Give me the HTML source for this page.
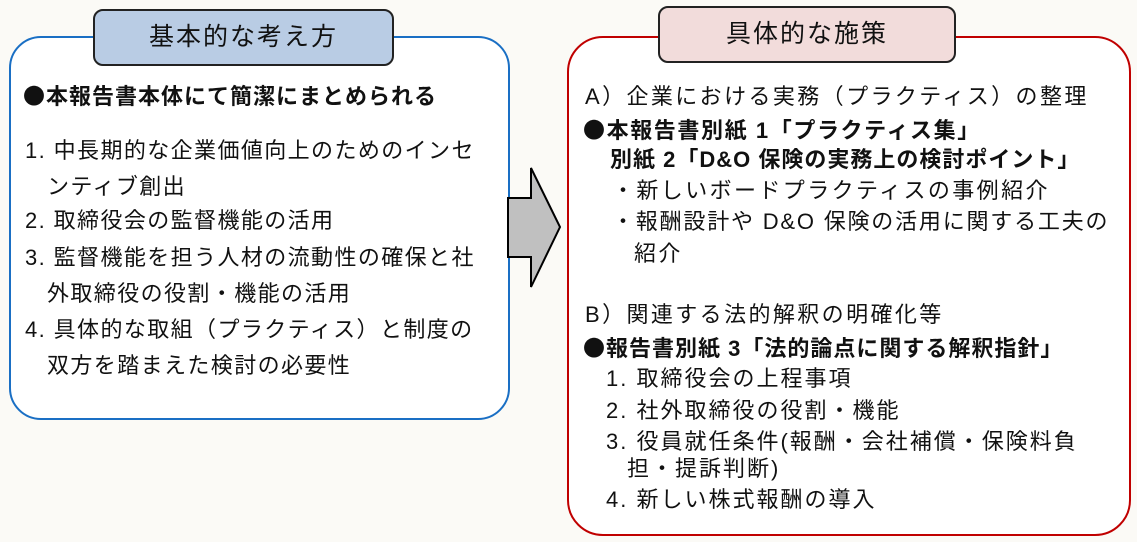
<!DOCTYPE html>
<html><head><meta charset="utf-8"><style>
body{margin:0;width:1137px;height:542px;background:#fbfaf6;position:relative;overflow:hidden;font-family:"Liberation Sans","Noto Sans CJK JP",sans-serif;color:#111}
.t{position:absolute;white-space:nowrap;line-height:1;}
.l{font-size:22px;letter-spacing:1.4px}
.r{font-size:22px;letter-spacing:2.4px}
.k{font-family:"Noto Sans CJK JP",sans-serif}
</style></head><body>
<div style="position:absolute;left:9px;top:36px;width:497px;height:380px;border:2px solid #1a6fc4;border-radius:32px;background:#fff"></div>
<div style="position:absolute;left:93px;top:9px;width:297px;height:53px;border:2px solid #222;border-radius:10px;background:#b9cce4;font-size:25px;text-align:center;line-height:53px;letter-spacing:2px">基本的な考え方</div>
<div style="position:absolute;left:567px;top:36px;width:560px;height:496px;border:2px solid #c00000;border-radius:36px;background:#fff"></div>
<div style="position:absolute;left:658px;top:6px;width:294px;height:53px;border:2px solid #222;border-radius:10px;background:#f2dcdb;font-size:25px;text-align:center;line-height:53px;letter-spacing:2px">具体的な施策</div>
<svg style="position:absolute;left:0;top:0" width="1137" height="542"><polygon points="508,198 531,198 531,168 560,227 531,287 531,257 508,257" fill="#c0c0c0" stroke="#000" stroke-width="2"/></svg>

<div class="t l" style="left:23px;top:84px;font-weight:bold;font-size:22px;letter-spacing:1px"><span class="k">●</span>本報告書本体にて簡潔にまとめられる</div>
<div class="t l" style="left:25px;top:140px">1. 中長期的な企業価値向上のためのインセ</div>
<div class="t l" style="left:47px;top:176px">ンティブ創出</div>
<div class="t l" style="left:25px;top:210px">2. 取締役会の監督機能の活用</div>
<div class="t l" style="left:25px;top:247px">3. 監督機能を担う人材の流動性の確保と社</div>
<div class="t l" style="left:47px;top:283px">外取締役の役割・機能の活用</div>
<div class="t l" style="left:25px;top:319px">4. 具体的な取組（プラクティス）と制度の</div>
<div class="t l" style="left:47px;top:355px">双方を踏まえた検討の必要性</div>

<div class="t r" style="left:585px;top:86px">A）企業における実務（プラクティス）の整理</div>
<div class="t r" style="left:583px;top:118px;font-weight:bold;letter-spacing:1.6px"><span class="k">●</span>本報告書別紙 1「プラクティス集」</div>
<div class="t r" style="left:610px;top:149px;font-weight:bold;letter-spacing:1px">別紙 2「D&amp;O 保険の実務上の検討ポイント」</div>
<div class="t r" style="left:612px;top:180px">・新しいボードプラクティスの事例紹介</div>
<div class="t r" style="left:612px;top:211px;letter-spacing:1.8px">・報酬設計や D&amp;O 保険の活用に関する工夫の</div>
<div class="t r" style="left:634px;top:243px">紹介</div>
<div class="t r" style="left:585px;top:304px">B）関連する法的解釈の明確化等</div>
<div class="t r" style="left:583px;top:336px;font-weight:bold;letter-spacing:1px"><span class="k">●</span>報告書別紙 3「法的論点に関する解釈指針」</div>
<div class="t r" style="left:606px;top:368px;letter-spacing:2px">1. 取締役会の上程事項</div>
<div class="t r" style="left:606px;top:400px;letter-spacing:2px">2. 社外取締役の役割・機能</div>
<div class="t r" style="left:606px;top:431px;letter-spacing:2px">3. 役員就任条件(報酬・会社補償・保険料負</div>
<div class="t r" style="left:627px;top:458px;letter-spacing:2px">担・提訴判断)</div>
<div class="t r" style="left:606px;top:489px;letter-spacing:2px">4. 新しい株式報酬の導入</div>
</body></html>
